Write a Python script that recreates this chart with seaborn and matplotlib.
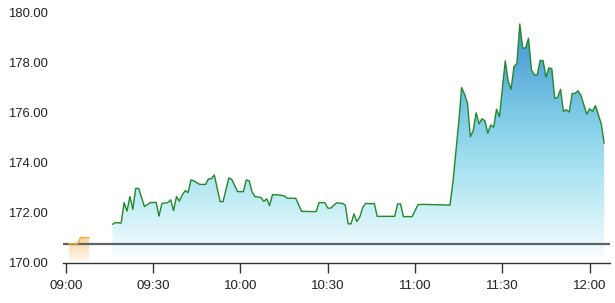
import numpy as np
import pandas as pd
import matplotlib
matplotlib.use("Agg")
import matplotlib.pyplot as plt
import matplotlib.dates as mdates
from matplotlib.colors import LinearSegmentedColormap
import seaborn as sns

# ---------------- data ----------------
prev_close = 170.75

pre_times = ["09:01", "09:04", "09:05", "09:08"]
pre_prices = [170.75, 170.75, 171.00, 171.00]

times = [
    "09:16", "09:17", "09:19", "09:20", "09:21", "09:22", "09:23", "09:24", "09:25", "09:27",
    "09:29", "09:31", "09:32", "09:33", "09:35", "09:36", "09:37", "09:38", "09:39", "09:40",
    "09:41", "09:42", "09:43", "09:44", "09:46", "09:48", "09:49", "09:50", "09:51", "09:53",
    "09:54", "09:56", "09:57", "09:59", "10:01", "10:02", "10:03", "10:04", "10:05", "10:07",
    "10:08", "10:09", "10:10", "10:11", "10:13", "10:15", "10:16", "10:19", "10:21", "10:26",
    "10:27", "10:29", "10:30", "10:31", "10:33", "10:35", "10:36", "10:37", "10:38", "10:39",
    "10:40", "10:41", "10:42", "10:43", "10:44", "10:46", "10:47", "10:53", "10:54", "10:55",
    "10:56", "10:59", "11:01", "11:03", "11:12", "11:13", "11:14", "11:15", "11:16", "11:17",
    "11:18", "11:19", "11:20", "11:21", "11:22", "11:23", "11:24", "11:25", "11:26", "11:27",
    "11:28", "11:29", "11:31", "11:32", "11:33", "11:34", "11:35", "11:36", "11:37", "11:38",
    "11:39", "11:40", "11:41", "11:42", "11:43", "11:44", "11:45", "11:46", "11:47", "11:48",
    "11:49", "11:50", "11:51", "11:52", "11:53", "11:54", "11:55", "11:56", "11:57", "11:59",
    "12:00", "12:01", "12:02", "12:04", "12:05",
]
prices = [
    171.53, 171.60, 171.58, 172.40, 172.06, 172.64, 172.13, 172.97, 172.97, 172.24,
    172.40, 172.41, 171.86, 172.37, 172.40, 172.51, 172.08, 172.64, 172.46, 172.71,
    172.88, 172.80, 173.31, 173.27, 173.13, 173.13, 173.35, 173.36, 173.51, 172.44,
    172.44, 173.39, 173.33, 172.84, 172.84, 173.31, 173.27, 172.82, 172.64, 172.61,
    172.45, 172.55, 172.28, 172.72, 172.71, 172.67, 172.58, 172.57, 172.05, 172.04,
    172.40, 172.40, 172.18, 172.18, 172.39, 172.37, 172.30, 171.55, 171.55, 171.95,
    171.64, 171.82, 172.20, 172.37, 172.36, 172.36, 171.85, 171.85, 172.35, 172.35,
    171.84, 171.84, 172.32, 172.33, 172.30, 173.20, 174.40, 175.60, 177.01, 176.75,
    176.40, 175.04, 175.29, 176.00, 175.56, 175.76, 175.68, 175.18, 175.51, 175.42,
    176.14, 175.84, 178.08, 177.27, 176.94, 177.86, 177.98, 179.56, 178.59, 178.60,
    178.99, 177.72, 177.52, 177.52, 178.10, 178.09, 177.43, 177.80, 177.77, 176.58,
    176.61, 176.94, 176.06, 176.12, 176.03, 176.77, 176.78, 176.88, 176.70, 175.95,
    176.16, 176.06, 176.29, 175.55, 174.78,
]

y_ticks = [170, 172, 174, 176, 178, 180]
x_tick_labels = ["09:00", "09:30", "10:00", "10:30", "11:00", "11:30", "12:00"]

# ---------------- build frames ----------------
day = "2024-01-02 "
df = pd.DataFrame({"time": pd.to_datetime([day + t for t in times]), "price": prices})
pre = pd.DataFrame({"time": pd.to_datetime([day + t for t in pre_times]), "price": pre_prices})

sns.set_theme(style="white")
plt.rcParams["font.family"] = ["Liberation Sans", "DejaVu Sans"]

fig = plt.figure(figsize=(6.15, 3.03), dpi=100)
ax = fig.add_axes([63 / 615, (303 - 262.5) / 303, (610 - 63) / 615, (262.5 - 13) / 303])

ymin, ymax = 170, 180
x0 = mdates.date2num(pd.Timestamp(day + "09:00")) - 1 / 1440
x1 = mdates.date2num(pd.Timestamp(day + "09:00")) + 187 / 1440

# gradient images
blue_cmap = LinearSegmentedColormap.from_list(
    "bl",
    [(0.0, "#ffffff"), (0.1, "#e4f7fb"), (0.2, "#ccf0f7"), (0.4, "#a2e0f0"),
     (0.6, "#7cc9e6"), (0.8, "#5aa9da"), (0.96, "#4792cf"), (1.0, "#438dcc")])
orange_cmap = LinearSegmentedColormap.from_list(
    "or", [(0.0, "#fffaf3"), (0.5, "#fde6c6"), (1.0, "#fbd198")])

grad = np.linspace(0, 1, 256).reshape(-1, 1)

sns.lineplot(data=df, x="time", y="price", ax=ax, color="#22882a", linewidth=1.0, zorder=4)
sns.lineplot(data=pre, x="time", y="price", ax=ax, color="#f3ae3e", linewidth=1.0, zorder=4)

xd = mdates.date2num(df["time"])
poly = ax.fill_between(xd, df["price"], ymin, facecolor="none", edgecolor="none")
im = ax.imshow(grad, extent=[x0, x1, ymin, ymax], origin="lower", aspect="auto",
               cmap=blue_cmap, zorder=1)
im.set_clip_path(poly.get_paths()[0], transform=ax.transData)

xp = mdates.date2num(pre["time"])
poly2 = ax.fill_between(xp, pre["price"], ymin, facecolor="none", edgecolor="none")
pmax = max(pre_prices)
im2 = ax.imshow(grad, extent=[x0, x1, ymin, pmax], origin="lower", aspect="auto",
                cmap=orange_cmap, zorder=1)
im2.set_clip_path(poly2.get_paths()[0], transform=ax.transData)

# previous close baseline
ax.axhline(prev_close, color="#5f6464", linewidth=1.6, zorder=3)

ax.set_xlim(x0, x1)
ax.set_ylim(ymin, ymax)

ax.set_yticks(y_ticks)
ax.set_yticklabels([f"{v:.2f}" for v in y_ticks])
xt = [mdates.date2num(pd.Timestamp(day + t)) for t in x_tick_labels]
ax.set_xticks(xt)
ax.set_xticklabels(x_tick_labels)

ax.set_xlabel("")
ax.set_ylabel("")
for s in ["top", "right", "left"]:
    ax.spines[s].set_visible(False)
ax.spines["bottom"].set_color("#333333")
ax.spines["bottom"].set_linewidth(1.0)
ax.grid(False)
ax.set_facecolor("white")

ax.tick_params(axis="y", length=0, pad=11, labelsize=9.4, labelcolor="#222222")
ax.tick_params(axis="x", direction="out", length=7.2, width=1.0, color="#333333",
               pad=5.5, labelsize=9.6, labelcolor="#222222")
ax.xaxis.set_ticks_position("bottom")

fig.savefig("out.png", dpi=100)
